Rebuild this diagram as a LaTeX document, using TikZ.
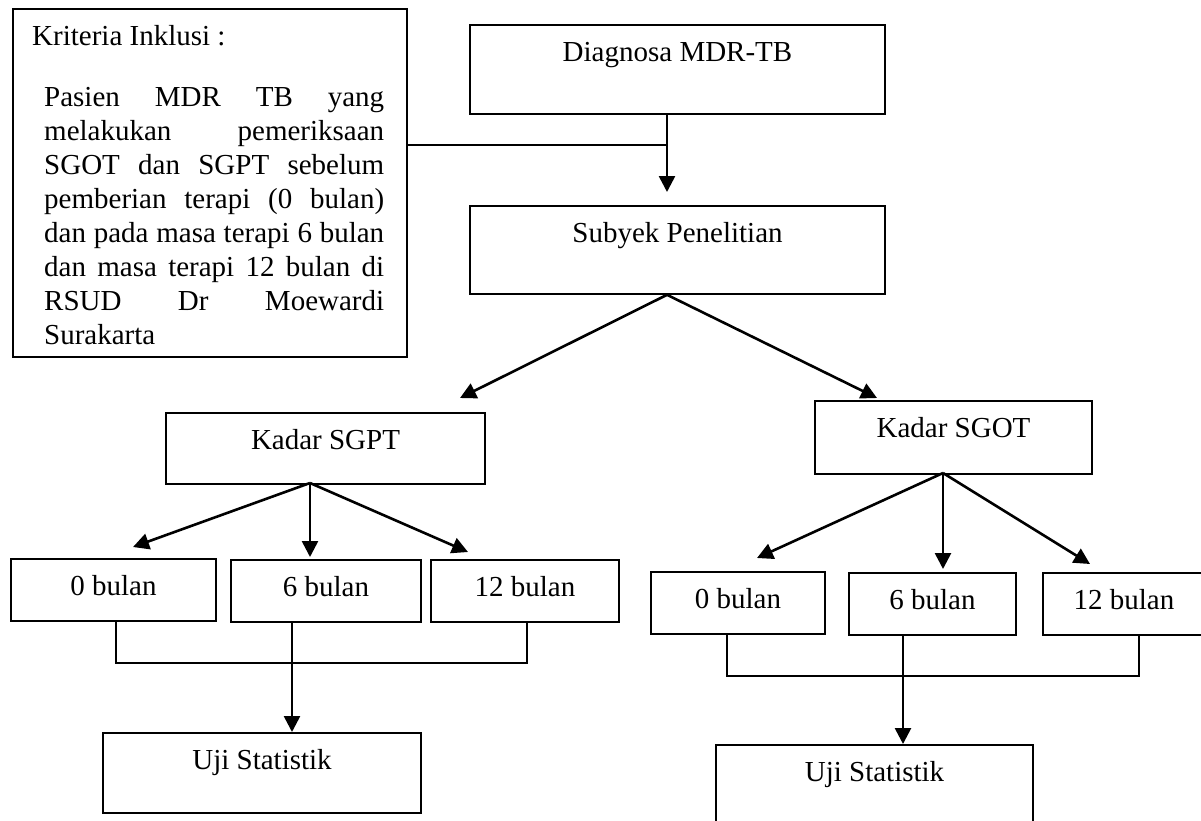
\documentclass[tikz,border=0pt]{standalone}
\usepackage{fontspec}
\setmainfont{Liberation Serif}
\usetikzlibrary{arrows.meta}

\begin{document}
\begin{tikzpicture}[x=1pt, y=-1pt, >/.tip={Triangle[length=16pt,width=16pt]},
    font=\fontsize{29}{34}\selectfont,
    kotak/.style={draw, line width=1.8pt, inner sep=0pt, anchor=north, text height=37pt},
    garis/.style={line width=1.5pt},
    panah/.style={->, line width=2.6pt}]
    \path[use as bounding box, clip] (0,0) rectangle (1201,820);
    \node [draw, line width=1.8pt, anchor=north west, minimum width=394pt, minimum height=348pt] (kriteria) at (12,8) {};
    \node [anchor=base west, inner sep=0pt] (judul) at (32,45) {Kriteria Inklusi :};
    \foreach \baris [count=\i from 0] in {Pasien MDR TB yang, melakukan pemeriksaan, SGOT dan SGPT sebelum, pemberian terapi (0 bulan), dan pada masa terapi 6 bulan, dan masa terapi 12 bulan di, RSUD Dr Moewardi} {
        \node [anchor=base west, inner sep=0pt] (isi\i) at (44,106+34*\i) {\makebox[340pt][s]{\baris}};
    }
    \node [anchor=base west, inner sep=0pt] (isi7) at (44,344) {Surakarta};
    \node [kotak, minimum width=415pt, text depth=52pt] (diagnosa) at (677.5,24) {Diagnosa MDR-TB};
    \node [kotak, minimum width=415pt, text depth=51pt] (subyek) at (677.5,205) {Subyek Penelitian};
    \node [kotak, minimum width=319pt, text depth=34pt] (sgpt) at (325.5,412) {Kadar SGPT};
    \node [kotak, minimum width=277pt, text depth=36pt] (sgot) at (953.5,400) {Kadar SGOT};
    \foreach \nama/\x/\y/\w/\bln in {p0/113.5/558/205pt/0, p6/326/559/190pt/6, p12/525/559/188pt/12, o0/738/571/174pt/0, o6/932.5/572/167pt/6, o12/1124/572/162pt/12} {
        \node [kotak, minimum width=\w, text depth=25pt] (\nama) at (\x,\y) {\bln\ bulan};
    }
    \node [kotak, minimum width=318pt, text depth=43pt] (ujikiri) at (262,732) {Uji Statistik};
    \node [kotak, minimum width=317pt, text depth=63pt] (ujikanan) at (874.5,744) {Uji Statistik};
    \coordinate (temu) at (667,145);
    \coordinate (kekiri) at (460,398);
    \coordinate (kekanan) at (877,398);
    \coordinate (akarpt) at (310,483);
    \coordinate (akarot) at (943,473);
    \foreach \nama/\x/\y in {tp0/133/547, tp6/310/557, tp12/468/552, to0/757/558, to6/943/569, to12/1090/564}
        \coordinate (\nama) at (\x,\y);
    \coordinate (gabkiri) at (292,663);
    \coordinate (gabkanan) at (903,676);
    \draw [garis] (kriteria.east |- temu) -- (temu);
    \draw [panah, shorten >=13pt] (diagnosa.south -| temu) -- (subyek.north -| temu);
    \draw [panah] (subyek.south -| temu) -- (kekiri);
    \draw [panah] (subyek.south -| temu) -- (kekanan);
    \foreach \j in {0,6,12} {
        \draw [panah] (akarpt) -- (tp\j);
        \draw [panah] (akarot) -- (to\j);
    }
    \draw [garis] (p0.south -| 116,0) |- (gabkiri) -| (p12.south -| 527,0);
    \draw [garis] (p6.south -| gabkiri) -- (gabkiri);
    \draw [panah] (gabkiri) -- (ujikiri.north -| gabkiri);
    \draw [garis] (o0.south -| 727,0) |- (gabkanan) -| (o12.south -| 1139,0);
    \draw [garis] (o6.south -| gabkanan) -- (gabkanan);
    \draw [panah] (gabkanan) -- (ujikanan.north -| gabkanan);
\end{tikzpicture}
\end{document}
